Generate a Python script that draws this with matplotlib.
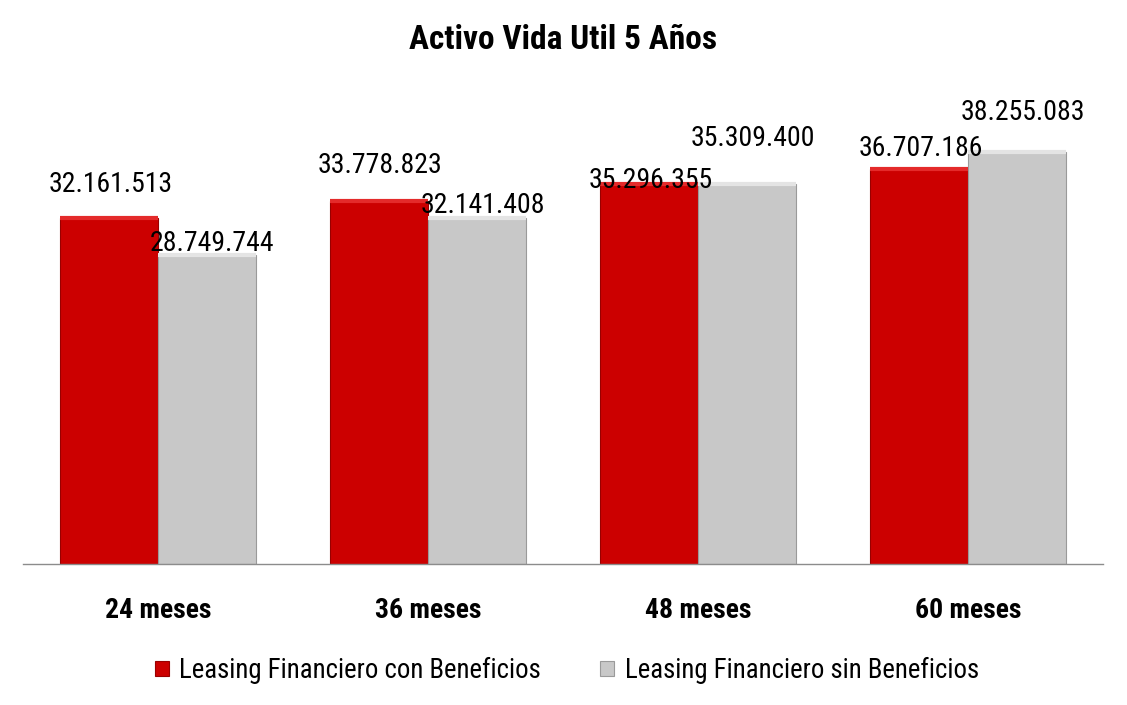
import numpy as np
import matplotlib
matplotlib.use('Agg')
import matplotlib.pyplot as plt
from matplotlib import font_manager

# Data
categories = ['24 meses', '36 meses', '48 meses', '60 meses']
con_beneficios = [32161513, 33778823, 35296355, 36707186]
sin_beneficios = [28749744, 32141408, 35309400, 38255083]
series_names = ['Leasing Financiero con Beneficios', 'Leasing Financiero sin Beneficios']

# label offsets (points, label centre above bar top), hand placed in the original
off_con = [24, 25, 3, 15]
off_sin = [8, 9, 33, 29]

# pick a narrow font if one is there
fonts = font_manager.fontManager.ttflist
names = {f.name for f in fonts}
stretch = 'normal'
family = 'Liberation Sans'
for cand in ['Liberation Sans Narrow', 'Arial Narrow', 'Roboto Condensed', 'Open Sans Condensed']:
    if cand in names:
        family = cand
        break
else:
    if any(f.name == 'DejaVu Sans' and f.stretch == 'condensed' for f in fonts):
        family = 'DejaVu Sans'
        stretch = 'condensed'
plt.rcParams['font.family'] = [family, 'DejaVu Sans']
plt.rcParams['font.stretch'] = stretch


def fmt(v):
    return f'{v:,}'.replace(',', '.')


fig = plt.figure(figsize=(11.27, 7.05), dpi=100)
ax = fig.add_axes([23 / 1127, 0.2, 1080 / 1127, 504 / 705])

x = np.arange(len(categories))
w = 0.363
red = '#CC0000'
grey = '#C8C8C8'
b1 = ax.bar(x - w / 2, con_beneficios, w, color=red, edgecolor='#990000', linewidth=0.8,
            label=series_names[0], zorder=2)
b2 = ax.bar(x + w / 2, sin_beneficios, w, color=grey, edgecolor='#9A9A9A', linewidth=0.8,
            label=series_names[1], zorder=2)

# thin highlight along the top of each bar for the bevel look
for bars, hl in ((b1, '#E42A2A'), (b2, '#E4E4E4')):
    for r in bars:
        ax.plot([r.get_x(), r.get_x() + r.get_width()], [r.get_height(), r.get_height()],
                color=hl, lw=3, solid_capstyle='butt', zorder=3)

for r, v, o in zip(b1, con_beneficios, off_con):
    ax.annotate(fmt(v), (r.get_x() + r.get_width() / 2, v), xytext=(1, o),
                textcoords='offset points', ha='center', va='center', fontsize=20, zorder=4)
for r, v, o in zip(b2, sin_beneficios, off_sin):
    ax.annotate(fmt(v), (r.get_x() + r.get_width() / 2, v), xytext=(4, o),
                textcoords='offset points', ha='center', va='center', fontsize=20, zorder=4)

ax.set_xlim(-0.5, 3.5)
ax.set_ylim(0, 46.84e6)
ax.set_xticks(x)
ax.set_xticklabels(categories, fontsize=20, fontweight='bold')
ax.tick_params(axis='x', length=0, pad=24)
ax.set_yticks([])
for s in ['top', 'right', 'left']:
    ax.spines[s].set_visible(False)
ax.spines['bottom'].set_color('#8C8C8C')
ax.spines['bottom'].set_linewidth(1)

fig.text(0.5, 0.943, 'Activo Vida Util 5 Años', ha='center', va='center',
         fontsize=24, fontweight='bold')

fig.legend(loc='center', bbox_to_anchor=(0.503, 0.049), ncol=2, frameon=False,
           fontsize=19.4, handlelength=0.5, handleheight=0.5, handletextpad=0.4,
           columnspacing=2.2)

fig.savefig('out.png', dpi=100)
